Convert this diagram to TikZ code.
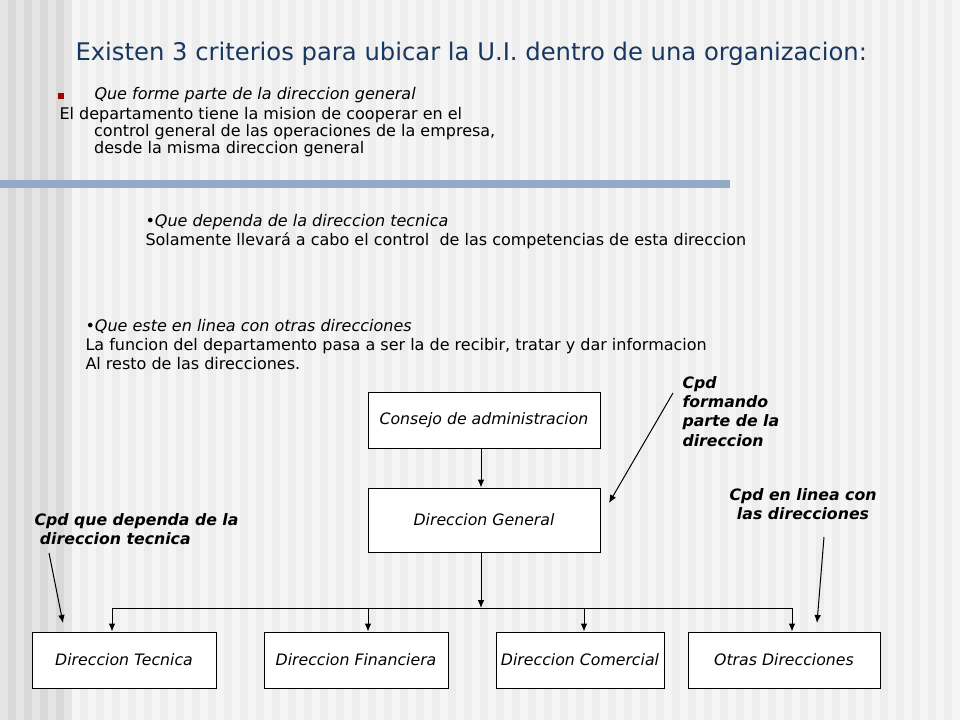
\documentclass[tikz,border=0pt]{standalone}
\usepackage{fontspec}
\setmainfont{DejaVu Sans}
\usetikzlibrary{positioning}
\usetikzlibrary{arrows.meta}

\definecolor{titleblue}{HTML}{17375E}
\definecolor{barblue}{HTML}{93A9C5}
\definecolor{bulletred}{HTML}{A00000}
\definecolor{bandlight}{HTML}{E4E4E4}
\definecolor{banddark}{HTML}{D8D8D8}
\definecolor{paperlight}{HTML}{F5F5F5}
\definecolor{paperdark}{HTML}{EDEDED}

\tikzset{
  dirbox/.style={draw, fill=white, inner sep=0pt, font=\fontsize{11.8}{14}\selectfont\itshape},
  cpdnote/.style={font=\fontsize{11.8}{13.7}\selectfont\bfseries\itshape, align=left, inner sep=0pt},
  bodytext/.style={font=\fontsize{12}{13.1}\selectfont, align=left, inner sep=0pt},
  crittext/.style={font=\fontsize{12}{14.25}\selectfont, align=left, inner sep=0pt}
}

\begin{document}
\begin{tikzpicture}[x=0.75pt,y=-0.75pt,>={Latex[length=6pt,width=5pt]},line width=0.75pt]
	% background
	\useasboundingbox (0,0) rectangle (960,720);
	\fill[paperlight] (0,0) rectangle (960,720);
	\fill[bandlight] (0,0) rectangle (72,720);
	\foreach \x in {8,24,40,56}
		\fill[banddark] (\x,0) rectangle ++(8,720);
	\foreach \x in {80,96,...,944}
		\fill[paperdark] (\x,0) rectangle ++(8,720);
	\fill[barblue] (0,180) rectangle (730,188);

	% title and text
	\node[anchor=base west, inner sep=0pt, text=titleblue, font=\fontsize{18.2}{22}\selectfont] (title) at (75,61)
		{Existen 3 criterios para ubicar la U.I. dentro de una organizacion:};
	\node[fill=bulletred, minimum size=4.5pt, inner sep=0pt] (bullet) at (61,96) {};
	\node[anchor=base west, bodytext, font=\fontsize{12}{13.1}\selectfont\itshape] (crit1) at (94,100)
		{Que forme parte de la direccion general};
	\node[anchor=base west, bodytext] (text1) at (59,154)
		{El departamento tiene la mision de cooperar en el\\
		\hspace*{26pt}control general de las operaciones de la empresa,\\
		\hspace*{26pt}desde la misma direccion general};
	\node[anchor=base west, crittext] (crit2) at (145,246)
		{•\textit{Que dependa de la direccion tecnica}\\
		Solamente llevará a cabo el control\ \ de las competencias de esta direccion};
	\node[anchor=base west, crittext] (crit3) at (85,369)
		{•\textit{Que este en linea con otras direcciones}\\
		La funcion del departamento pasa a ser la de recibir, tratar y dar informacion\\
		Al resto de las direcciones.};

	% organigrama
	\node[dirbox, minimum width=174pt, minimum height=42pt] (consejo) at (484,420) {Consejo de administracion};
	\node[dirbox, minimum width=174pt, minimum height=48pt] (general) at (484,520) {Direccion General};
	\node[dirbox, minimum width=138pt, minimum height=42pt] (tecnica) at (124,660) {Direccion Tecnica};
	\node[dirbox, minimum width=138pt, minimum height=42pt] (financiera) at (356,660) {Direccion Financiera};
	\node[dirbox, minimum width=126pt, minimum height=42pt] (comercial) at (580,660) {Direccion Comercial};
	\node[dirbox, minimum width=144pt, minimum height=42pt] (otras) at (784,660) {Otras Direcciones};

	\coordinate (bus) at (481,608);
	\coordinate (bus1) at (112,608);
	\coordinate (bus2) at (368,608);
	\coordinate (bus3) at (584,608);
	\coordinate (bus4) at (792,608);

	\draw[->] (consejo.south -| bus) -- (general.north -| bus);
	\draw[->] (general.south -| bus) -- (bus);
	\draw (bus1) -- (bus4);
	\foreach \b/\n in {bus1/tecnica,bus2/financiera,bus3/comercial,bus4/otras}
		\draw[->] (\b) -- (\b |- \n.north);

	% notas
	\node[anchor=base west, cpdnote, font=\fontsize{11.8}{14.5}\selectfont\bfseries\itshape] (nota1) at (682,446)
		{Cpd\\formando\\parte de la\\direccion};
	\node[anchor=base, cpdnote, align=center] (nota2) at (803,519) {Cpd en linea con\\las direcciones};
	\node[anchor=base west, cpdnote] (nota3) at (34,544) {Cpd que dependa de la\\\ direccion tecnica};

	\coordinate (n1a) at (673,393);
	\coordinate (n1b) at (609,503);
	\coordinate (n2a) at (824,537);
	\coordinate (n2b) at (817,623);
	\coordinate (n3a) at (49,553);
	\coordinate (n3b) at (63,623);
	\draw[->] (n1a) -- (n1b);
	\draw[->] (n2a) -- (n2b);
	\draw[->] (n3a) -- (n3b);
\end{tikzpicture}
\end{document}
